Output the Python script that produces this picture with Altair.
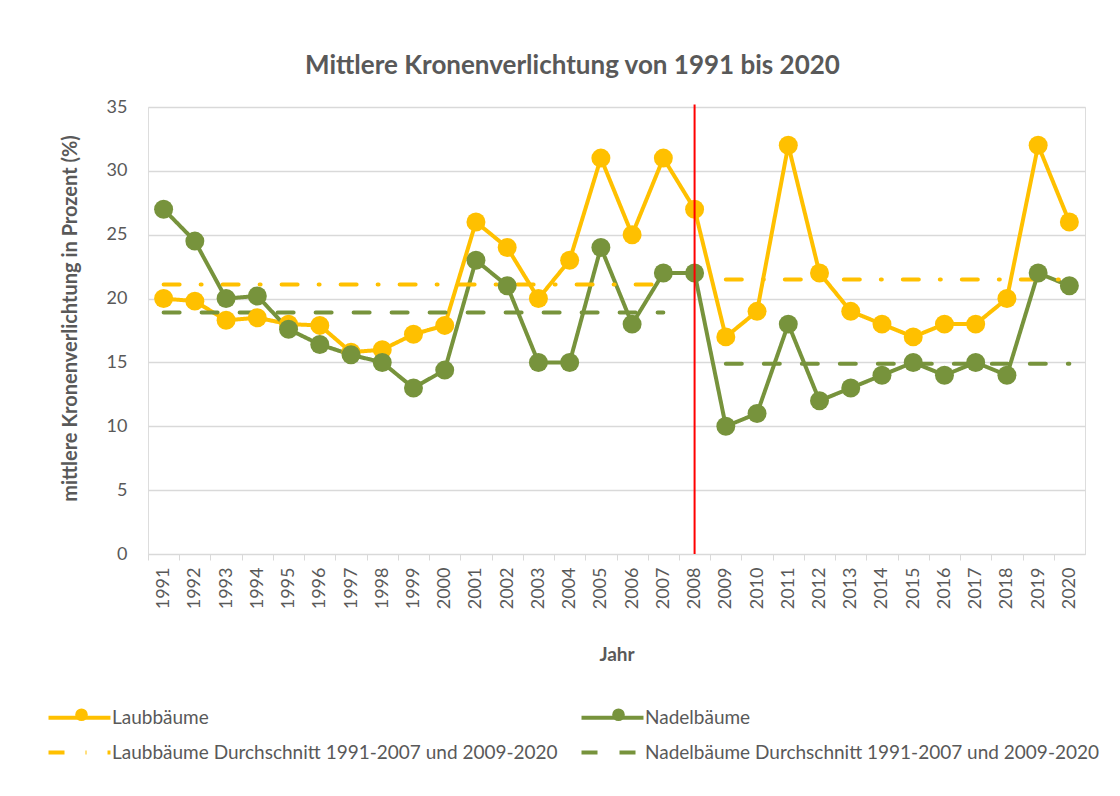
import altair as alt
import pandas as pd

years = [str(y) for y in range(1991, 2021)]
laub = [20, 19.8, 18.3, 18.5, 18.0, 17.9, 15.8, 16.0, 17.2, 17.9,
        26, 24, 20, 23, 31, 25, 31, 27, 17, 19,
        32, 22, 19, 18, 17, 18, 18, 20, 32, 26]
nadel = [27, 24.5, 20, 20.2, 17.6, 16.4, 15.6, 15.0, 13, 14.4,
         23, 21, 15, 15, 24, 18, 22, 22, 10, 11,
         18, 12, 13, 14, 15, 14, 15, 14, 22, 21]

# averages: (start year, end year, value)
period_a = ["1991", "2007"]
period_b = ["2009", "2020"]
laub_avg = [21.1, 21.5]
nadel_avg = [18.9, 14.9]

s_laub = "Laubbäume"
s_nadel = "Nadelbäume"
s_laub_avg = "Laubbäume Durchschnitt 1991-2007 und 2009-2020"
s_nadel_avg = "Nadelbäume Durchschnitt 1991-2007 und 2009-2020"
series_order = [s_laub, s_laub_avg, s_nadel, s_nadel_avg]
colors = ["#FFC000", "#FFC000", "#77933C", "#77933C"]
dashes = [[1, 0], [16, 21, 1, 21], [1, 0], [16, 22]]

rows = []
for y, v in zip(years, laub):
    rows.append({"series": s_laub, "Jahr": y, "value": v, "seg": "main"})
for y, v in zip(years, nadel):
    rows.append({"series": s_nadel, "Jahr": y, "value": v, "seg": "main"})
for name, vals in [(s_laub_avg, laub_avg), (s_nadel_avg, nadel_avg)]:
    for per, v, seg in [(period_a, vals[0], "a"), (period_b, vals[1], "b")]:
        for y in per:
            rows.append({"series": name, "Jahr": y, "value": v, "seg": seg})
df = pd.DataFrame(rows)

marker_df = pd.DataFrame({"Jahr": ["2008"], "y0": [0], "y1": [35.2]})

FONT = "Lato"
TXT = "#595959"

legend = alt.Legend(
    title=None, orient="none", legendX=-81, legendY=598, columns=2,
    symbolType="M-3,0H3", symbolSize=427, symbolStrokeWidth=4,
    labelFontSize=19, labelColor=TXT, labelFont=FONT, labelLimit=0,
    columnPadding=15, rowPadding=12, labelOffset=20,
)

marker_legend = alt.Legend(
    title=None, orient="none", legendX=-76, legendY=598, columns=2,
    symbolType="circle", symbolSize=160, symbolStrokeWidth=0, symbolOpacity=1,
    labelExpr="''", labelFontSize=19, columnPadding=518, labelOffset=0,
)

x_enc = alt.X(
    "Jahr:O", sort=years,
    scale=alt.Scale(type="point", padding=0.5),
    axis=alt.Axis(
        title="Jahr", labelAngle=-90, labelFontSize=18, labelColor=TXT, labelFont=FONT,
        titleFontSize=19, titleFontWeight="bold", titleColor=TXT, titleFont=FONT,
        titlePadding=37, domainColor="#d9d9d9", tickColor="#d9d9d9", tickSize=6,
        tickOffset=-15.6, labelOffset=15.6, labelPadding=7, grid=False,
    ),
)
y_scale = alt.Scale(domain=[0, 35], nice=False)
y_axis = alt.Axis(
    title="mittlere Kronenverlichtung in Prozent (%)", values=list(range(0, 36, 5)),
    domain=False, ticks=False, labelFontSize=18, labelColor=TXT, labelFont=FONT,
    labelPadding=21, gridColor="#d9d9d9", gridWidth=1.3,
    titleFontSize=20, titleFontWeight="bold", titleColor=TXT, titleFont=FONT,
    titlePadding=26, titleY=211,
)

lines = alt.Chart(df).mark_line(strokeWidth=4, strokeCap="round", strokeJoin="round").encode(
    x=x_enc,
    y=alt.Y("value:Q", scale=y_scale, axis=y_axis),
    color=alt.Color("series:N", scale=alt.Scale(domain=series_order, range=colors), legend=legend),
    strokeDash=alt.StrokeDash("series:N", scale=alt.Scale(domain=series_order, range=dashes), legend=legend),
    detail="seg:N",
)

points = alt.Chart(df).transform_filter(
    alt.FieldOneOfPredicate(field="seg", oneOf=["main"])
).transform_calculate(
    marker="datum.series"
).mark_circle(size=360, opacity=1, strokeWidth=0).encode(
    x=alt.X("Jahr:O", sort=years),
    y=alt.Y("value:Q"),
    fill=alt.Fill("marker:N", scale=alt.Scale(domain=[s_laub, s_nadel], range=["#FFC000", "#77933C"]),
                  legend=marker_legend),
)

rule = alt.Chart(marker_df).mark_rule(color="#FF0000", strokeWidth=2).encode(
    x=alt.X("Jahr:O", sort=years),
    y=alt.Y("y0:Q"),
    y2="y1:Q",
)

chart = alt.layer(lines, points, rule).properties(
    width=937, height=447,
    title=alt.TitleParams(
        "Mittlere Kronenverlichtung von 1991 bis 2020",
        fontSize=26, fontWeight="bold", color=TXT, font=FONT, offset=19, dx=-44,
    ),
    autosize=alt.AutoSizeParams(type="none"),
    padding={"left": 140, "top": 99, "right": 27, "bottom": 234},
).configure_view(stroke=None).configure(background="white")

chart.save("out.html", embed_options={"renderer": "svg", "actions": False})
